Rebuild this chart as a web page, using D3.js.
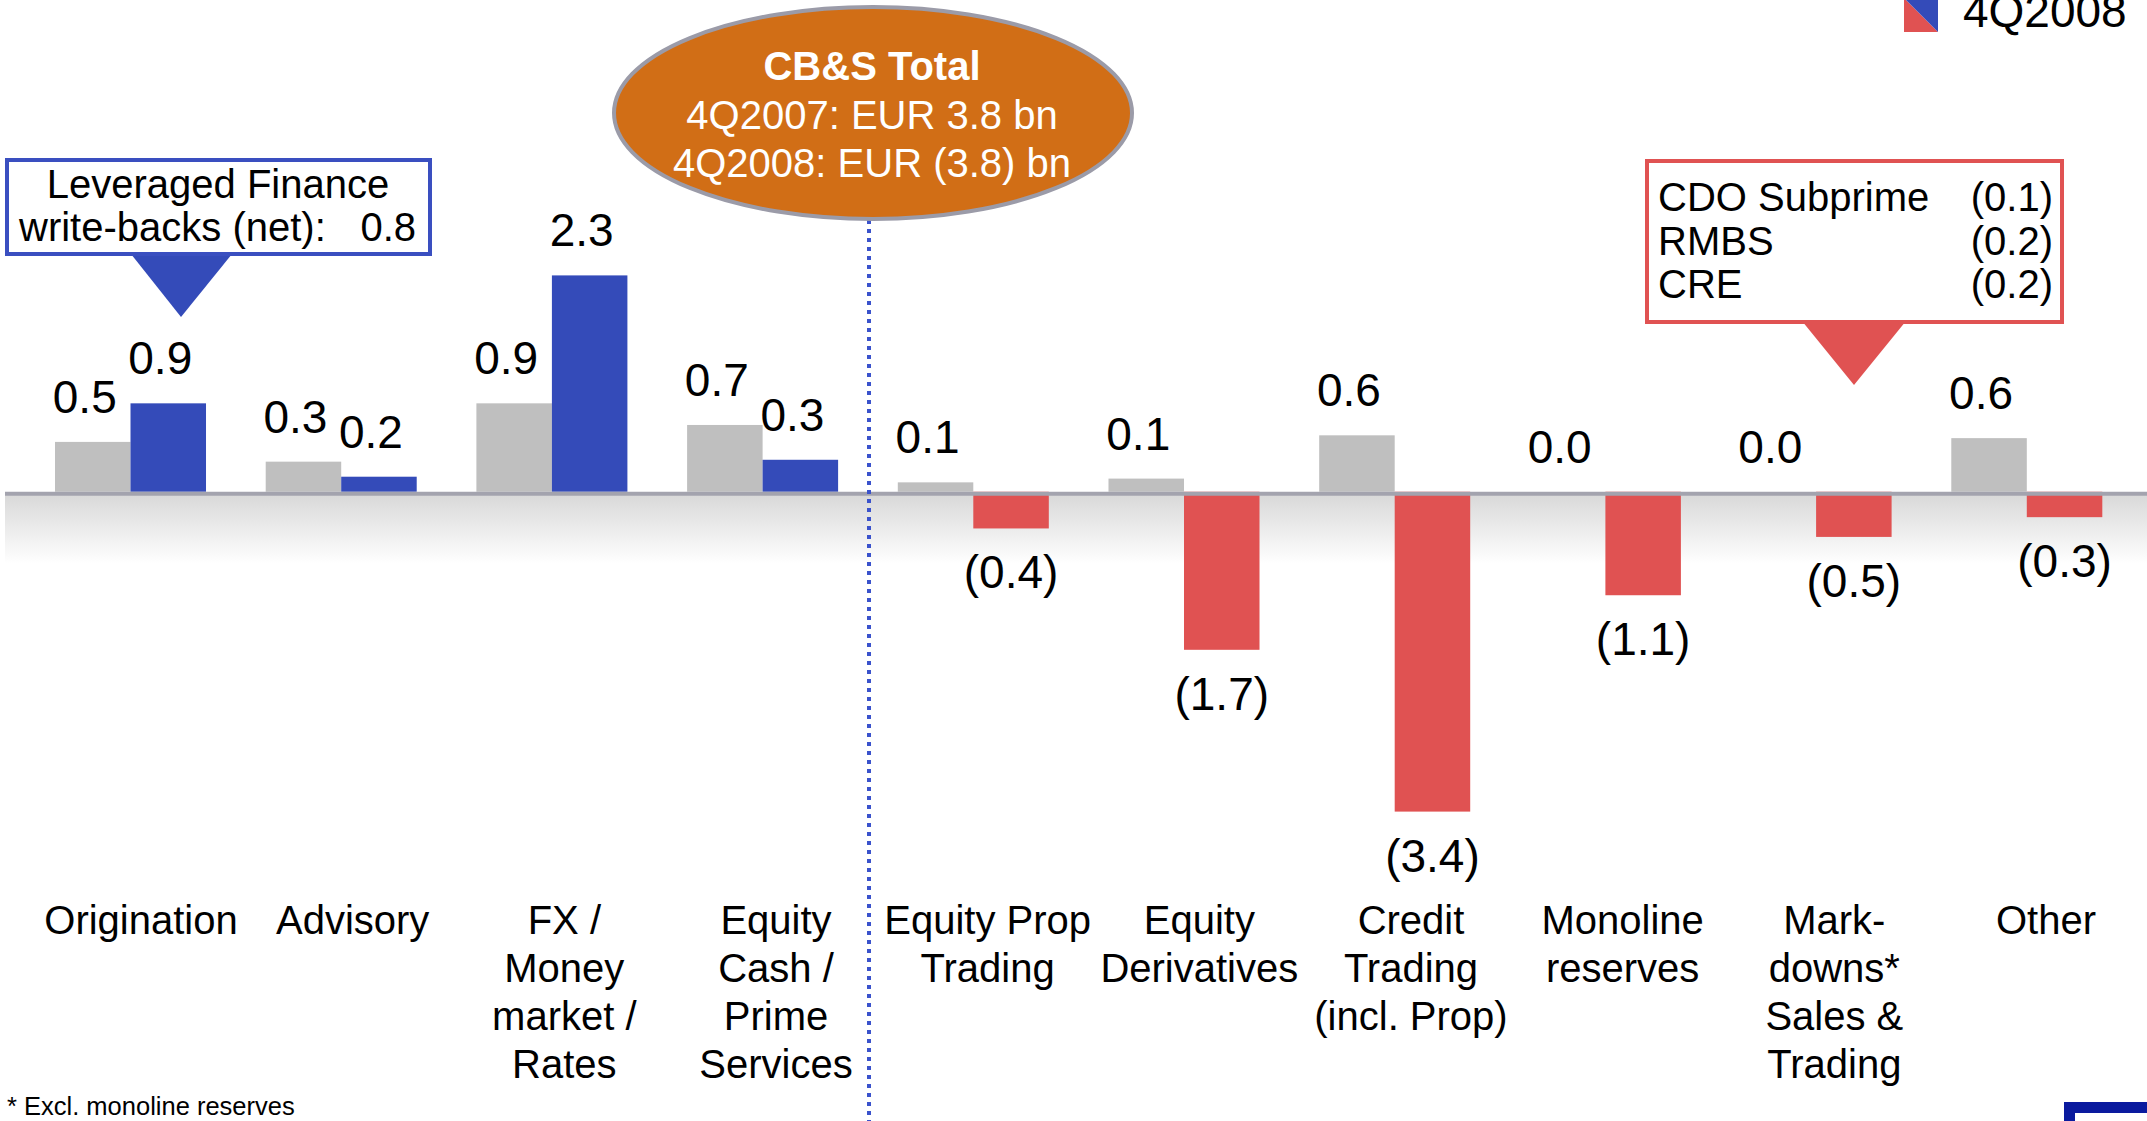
<!DOCTYPE html>
<html>
<head>
<meta charset="utf-8">
<script src="https://cdn.jsdelivr.net/npm/d3@7"></script>
<style>
  html, body { margin: 0; padding: 0; background: #fff; overflow: hidden; }
  svg { display: block; font-family: "Liberation Sans", Arial, sans-serif; }
</style>
</head>
<body>
<svg id="chart" width="2147" height="1121"></svg>
<script>
// ---- data ----
const categories = [
  ["Origination"],
  ["Advisory"],
  ["FX /", "Money", "market /", "Rates"],
  ["Equity", "Cash /", "Prime", "Services"],
  ["Equity Prop", "Trading"],
  ["Equity", "Derivatives"],
  ["Credit", "Trading", "(incl. Prop)"],
  ["Monoline", "reserves"],
  ["Mark-", "downs*", "Sales &", "Trading"],
  ["Other"]
];
const q2007 = [0.53, 0.32, 0.94, 0.71, 0.10, 0.14, 0.60, 0.00, 0.00, 0.57];
const q2008 = [0.94, 0.16, 2.30, 0.34, -0.39, -1.68, -3.40, -1.10, -0.48, -0.27];
const seriesNames = ["4Q2007", "4Q2008"];
const totalTitle = "CB&S Total";
const totalLines = ["4Q2007: EUR 3.8 bn", "4Q2008: EUR (3.8) bn"];
const levFinLines = ["Leveraged Finance", "write-backs (net):", "0.8"];
const creditItems = ["CDO Subprime", "RMBS", "CRE"];
const creditValues = [-0.1, -0.2, -0.2];
const footnote = "* Excl. monoline reserves";

// ---- setup ----
const svg = d3.select("#chart");
const W = 2147, H = 1121;
const GRAY = "#bfbfbf", BLUE = "#344bb9", RED = "#e05252";

const fmt = v => v < 0 ? "(" + Math.abs(v).toFixed(1) + ")" : v.toFixed(1);

const idx = d3.range(categories.length);
const x = d3.scaleBand().domain(idx).range([55, 2102.3]).paddingInner(0.2833).paddingOuter(0);
const x1 = d3.scaleBand().domain([0, 1]).range([0, x.bandwidth()]);
const y = d3.scaleLinear().domain([-3.4, 2.3]).range([811.6, 275.4]);
const y0 = y(0);

// gradient under baseline
const defs = svg.append("defs");
const grad = defs.append("linearGradient").attr("id", "shade").attr("x1", 0).attr("y1", 0).attr("x2", 0).attr("y2", 1);
grad.append("stop").attr("offset", 0).attr("stop-color", "#d8d8d8");
grad.append("stop").attr("offset", 1).attr("stop-color", "#ffffff");
svg.append("rect").attr("x", 5).attr("y", y0 + 2).attr("width", W - 5).attr("height", 70).attr("fill", "url(#shade)");

// bars
const rows = [];
idx.forEach(i => {
  rows.push({ i, s: 0, v: q2007[i] });
  rows.push({ i, s: 1, v: q2008[i] });
});
const colorOf = d => d.s === 0 ? GRAY : (d.v >= 0 ? BLUE : RED);

svg.append("g").selectAll("rect").data(rows).join("rect")
  .attr("x", d => x(d.i) + x1(d.s))
  .attr("width", x1.bandwidth())
  .attr("y", d => Math.min(y(d.v), y0))
  .attr("height", d => Math.abs(y(d.v) - y0))
  .attr("fill", colorOf);

// baseline
svg.append("line").attr("x1", 5).attr("x2", W).attr("y1", y0 + 2).attr("y2", y0 + 2)
  .attr("stroke", "#a3a3ae").attr("stroke-width", 4);

// value labels
svg.append("g").selectAll("text").data(rows).join("text")
  .attr("x", d => x(d.i) + x1(d.s) + x1.bandwidth() / 2 + (d.v >= 0 ? -8 : 0))
  .attr("y", d => d.v >= 0 ? y(d.v) - 29 : y(d.v) + 60)
  .attr("text-anchor", "middle")
  .attr("font-size", 46)
  .attr("fill", "#000")
  .text(d => fmt(d.v));

// category labels
const xl = d3.scalePoint().domain(idx).range([141, 2046]);
const catG = svg.append("g");
idx.forEach(i => {
  const t = catG.append("text").attr("x", xl(i)).attr("y", 934)
    .attr("text-anchor", "middle").attr("font-size", 40).attr("fill", "#000");
  categories[i].forEach((line, k) => {
    t.append("tspan").attr("x", xl(i)).attr("y", 934 + k * 48).text(line);
  });
});

// dotted separator
svg.append("line").attr("x1", 869).attr("x2", 869).attr("y1", 220).attr("y2", H)
  .attr("stroke", "#3a52cc").attr("stroke-width", 4).attr("stroke-dasharray", "4,5");

// CB&S total ellipse
svg.append("ellipse").attr("cx", 873).attr("cy", 113).attr("rx", 259).attr("ry", 106)
  .attr("fill", "#d16e16").attr("stroke", "#9b9ba8").attr("stroke-width", 4);
svg.append("text").attr("x", 872).attr("y", 80).attr("text-anchor", "middle")
  .attr("font-size", 40).attr("font-weight", "bold").attr("fill", "#fff").text(totalTitle);
totalLines.forEach((t, k) => {
  svg.append("text").attr("x", 872).attr("y", 129 + k * 48).attr("text-anchor", "middle")
    .attr("font-size", 40).attr("fill", "#fff").text(t);
});

// Leveraged finance callout
svg.append("path").attr("d", "M131,254 L232,254 L181,317 Z").attr("fill", BLUE);
svg.append("rect").attr("x", 7).attr("y", 160).attr("width", 423).attr("height", 94)
  .attr("fill", "#fff").attr("stroke", "#3a4fc0").attr("stroke-width", 4);
svg.append("text").attr("x", 218).attr("y", 198).attr("text-anchor", "middle")
  .attr("font-size", 40).text(levFinLines[0]);
svg.append("text").attr("x", 19).attr("y", 241).attr("font-size", 40).text(levFinLines[1]);
svg.append("text").attr("x", 416).attr("y", 241).attr("text-anchor", "end").attr("font-size", 40).text(levFinLines[2]);

// Credit callout
svg.append("path").attr("d", "M1802,321 L1906,321 L1854,385 Z").attr("fill", RED);
svg.append("rect").attr("x", 1647).attr("y", 161).attr("width", 415).attr("height", 161)
  .attr("fill", "#fff").attr("stroke", "#e05252").attr("stroke-width", 4);
creditItems.forEach((t, k) => {
  svg.append("text").attr("x", 1658).attr("y", 211 + k * 43.5).attr("font-size", 40).text(t);
  svg.append("text").attr("x", 2053).attr("y", 211 + k * 43.5).attr("text-anchor", "end")
    .attr("font-size", 40).text(fmt(creditValues[k]));
});

// legend (4Q2008 swatch, partially cut at top)
svg.append("path").attr("d", "M1904,-2 L1938,32 L1904,32 Z").attr("fill", RED);
svg.append("path").attr("d", "M1904,-2 L1938,-2 L1938,32 Z").attr("fill", BLUE);
svg.append("text").attr("x", 1963).attr("y", 27).attr("font-size", 46).text(seriesNames[1]);

// footnote
svg.append("text").attr("x", 7).attr("y", 1115).attr("font-size", 25.5).text(footnote);

// logo box (bottom right, cut off)
svg.append("rect").attr("x", 2069.5).attr("y", 1107.5).attr("width", 200).attr("height", 100)
  .attr("fill", "#fff").attr("stroke", "#0a1a9e").attr("stroke-width", 11);
</script>
</body>
</html>
